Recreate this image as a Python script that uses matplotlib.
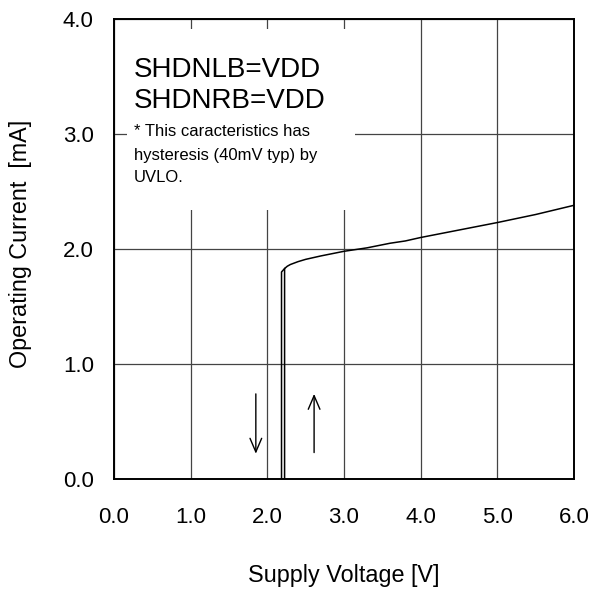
import matplotlib
matplotlib.use("Agg")
import matplotlib.pyplot as plt
from matplotlib.patches import Rectangle

plt.rcParams['font.family'] = ['Liberation Sans', 'DejaVu Sans']

# --- data ---
up_voltage = [2.225, 2.225, 2.26, 2.30, 2.40, 2.50, 2.70, 3.00, 3.30, 3.60, 3.80, 4.00, 4.50, 5.00, 5.50, 6.00]
up_current = [0.00, 1.83, 1.85, 1.865, 1.89, 1.91, 1.94, 1.98, 2.01, 2.05, 2.07, 2.10, 2.165, 2.23, 2.30, 2.38]
down_voltage = [2.225, 2.205, 2.185, 2.185]
down_current = [1.83, 1.815, 1.80, 0.00]

arrow_down_v = 1.85
arrow_down_i = [0.74, 0.22]
arrow_up_v = 2.61
arrow_up_i = [0.23, 0.74]

x_ticks = [0, 1, 2, 3, 4, 5, 6]
y_ticks = [0, 1, 2, 3, 4]
x_ticklabels = ["0.0", "1.0", "2.0", "3.0", "4.0", "5.0", "6.0"]
y_ticklabels = ["0.0", "1.0", "2.0", "3.0", "4.0"]

fig = plt.figure(figsize=(5.89, 5.91), dpi=100)
ax = fig.add_axes([114/589, 1-479/591, 460/589, 460/591])

ax.plot(up_voltage, up_current, color='black', lw=1.1, zorder=3)
ax.plot(down_voltage, down_current, color='black', lw=1.1, zorder=3)

astyle = dict(arrowstyle='->,head_length=0.7,head_width=0.3', color='black', lw=1.0,
              mutation_scale=14, shrinkA=0, shrinkB=0)
ax.annotate('', xy=(arrow_down_v, arrow_down_i[1]), xytext=(arrow_down_v, arrow_down_i[0]),
            arrowprops=astyle, zorder=3)
ax.annotate('', xy=(arrow_up_v, arrow_up_i[1]), xytext=(arrow_up_v, arrow_up_i[0]),
            arrowprops=astyle, zorder=3)

ax.set_xlim(0, 6)
ax.set_ylim(0, 4)
ax.set_xticks(x_ticks)
ax.set_xticklabels(x_ticklabels)
ax.set_yticks(y_ticks)
ax.set_yticklabels(y_ticklabels)
ax.tick_params(axis='x', length=0, pad=20, labelsize=16)
ax.tick_params(axis='y', length=0, pad=14.5, labelsize=16)
ax.set_axisbelow(True)
ax.grid(True, color='#444444', lw=0.9)
for s in ax.spines.values():
    s.set_linewidth(1.4)
    s.set_color('black')

# white annotation box hiding grid
ax.add_patch(Rectangle((0.0276, 0.585), 0.4964, 0.393, transform=ax.transAxes,
                       facecolor='white', edgecolor='none', zorder=1.5))

ax.text(0.0435, 0.874, "SHDNLB=VDD", transform=ax.transAxes, fontsize=20, va='baseline', zorder=4)
ax.text(0.0435, 0.8065, "SHDNRB=VDD", transform=ax.transAxes, fontsize=20, va='baseline', zorder=4)
ax.text(0.0435, 0.746, "* This caracteristics has", transform=ax.transAxes, fontsize=12, va='baseline', zorder=4)
ax.text(0.0435, 0.6935, "hysteresis (40mV typ) by", transform=ax.transAxes, fontsize=12, va='baseline', zorder=4)
ax.text(0.0435, 0.6457, "UVLO.", transform=ax.transAxes, fontsize=12, va='baseline', zorder=4)

ax.set_xlabel("Supply Voltage [V]", fontsize=16.8, va='baseline')
ax.xaxis.set_label_coords(0.5, -0.2233)
ax.set_ylabel("Operating Current  [mA]", fontsize=16.8, va='baseline')
ax.yaxis.set_label_coords(-0.19, 0.511)

fig.savefig("out.png", dpi=100)
